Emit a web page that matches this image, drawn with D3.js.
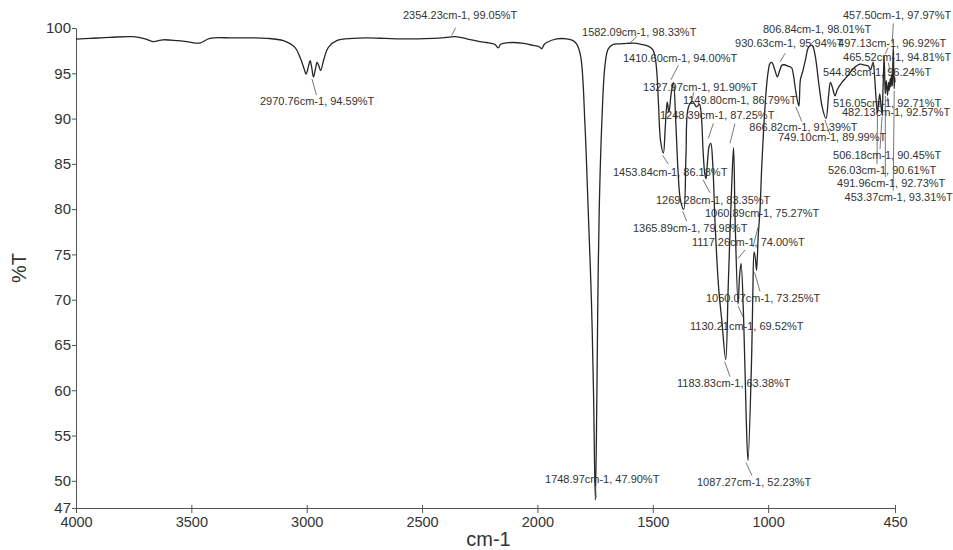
<!DOCTYPE html>
<html>
<head>
<meta charset="utf-8">
<script src="https://cdn.jsdelivr.net/npm/d3@7/dist/d3.min.js"></script>
<style>
  html, body { margin: 0; padding: 0; background: #fff; }
  svg { display: block; font-family: "Liberation Sans", Arial, sans-serif; }
</style>
</head>
<body>
<svg id="chart" width="953" height="550"></svg>
<script>
// IR spectrum: wavenumber (cm-1) and transmittance (%T)
const wavenumber = [
  4000, 3940, 3853, 3752, 3700, 3666, 3622, 3560, 3520, 3463, 3420, 3318, 3173, 3101,
  3051, 3029, 3010, 3003, 2992, 2985, 2978, 2970.76, 2962, 2955, 2947, 2940, 2925, 2906,
  2870, 2800, 2740, 2660, 2596, 2520, 2452, 2400, 2354.23, 2306, 2249, 2220, 2185, 2170,
  2160, 2148, 2106, 2060, 2032, 2000, 1990, 1982, 1970, 1960, 1916, 1873, 1845, 1829,
  1812, 1794, 1780, 1766, 1757, 1748.97, 1742, 1738, 1732, 1721, 1707, 1693, 1671, 1640,
  1610, 1582.09, 1550, 1520, 1500, 1490, 1482, 1475, 1466, 1453.84, 1447, 1441, 1437, 1430,
  1420, 1410.60, 1400, 1390, 1380, 1365.89, 1356, 1346, 1327.97, 1310, 1298, 1290, 1282,
  1275, 1269.28, 1262, 1255, 1248.39, 1240, 1230, 1215, 1200, 1183.83, 1173, 1158, 1149.80,
  1143, 1130.21, 1124, 1117.26, 1106, 1095, 1087.27, 1071, 1066, 1060.89, 1055, 1050.07,
  1043, 1035, 1028, 1020, 1013, 1006, 999, 992, 984, 970, 960, 950, 940, 930.63, 915, 898,
  891, 880, 866.82, 860, 850, 838, 826, 814, 806.84, 795, 780, 765, 749.10, 738, 730, 722,
  710, 700, 680, 659, 631, 602, 580, 566, 556, 550, 544.83, 538, 532, 526.03, 521, 516.05,
  511, 506.18, 502, 497.13, 494.5, 491.96, 488, 485, 482.13, 478, 475, 471, 468, 465.52,
  462, 460, 457.50, 455.5, 453.37, 451.5, 450
];
const transmittance = [
  98.78, 98.85, 98.97, 99.04, 98.8, 98.5, 98.7, 98.6, 98.5, 98.34, 98.86, 98.9, 98.86, 98.6,
  97.86, 96.76, 95.4, 94.9, 95.8, 96.4, 95.6, 94.59, 95.5, 96.2, 95.8, 95.3, 96.6, 97.86,
  98.6, 98.85, 98.9, 98.85, 98.8, 98.8, 98.86, 98.95, 99.05, 98.8, 98.5, 98.4, 98.2, 97.8,
  98.2, 98.3, 98.4, 98.3, 98.15, 98.0, 97.9, 97.7, 98.2, 98.4, 98.8, 98.8, 98.6, 98.2,
  96.8, 89.4, 80, 70, 60, 47.90, 60, 70, 80, 89.4, 95.9, 97.7, 98.2, 98.25,
  98.3, 98.33, 98.2, 98.0, 97.6, 96.8, 95.0, 91.5, 87.5, 86.18, 88.5, 91.0, 91.8, 90.7,
  92.8, 94.00, 89.5, 84, 81, 79.98, 86, 91.2, 91.90, 91.3, 91.6, 90.5, 86.5,
  84, 83.35, 85.5, 87, 87.25, 85, 78.5, 71.5, 67.5, 63.38, 71.4, 82.5, 86.79,
  78.8, 69.52, 72.5, 74.00, 67.8, 57, 52.23, 64.1, 71, 75.27, 74.5, 73.25,
  77, 80, 84.5, 88.5, 91.5, 93.8, 95.3, 96.1, 96.2, 95.3, 94.6, 95.3, 95.9, 95.94, 95.8, 95.6,
  94.9, 93.0, 91.39, 94.3, 95.2, 96.5, 97.8, 98.1, 98.01, 96.8, 93.8, 91.2, 89.99, 92.5, 94.0, 93.5,
  92.5, 93.2, 94.0, 94.6, 95.5, 96.0, 95.9, 95.8, 95.4, 95.8, 96.24, 94.5, 92.2, 90.61, 91.8, 92.71,
  91.6, 90.45, 93.2, 96.92, 94.6, 92.73, 94.2, 93.4, 92.57, 94.0, 93.1, 94.4, 93.5, 94.81,
  93.6, 95.2, 97.97, 95.5, 93.31, 94.6, 94.0
];

// Annotated peaks
const peakWn = [
  2970.76, 2354.23, 1748.97, 1582.09, 1453.84, 1410.60, 1365.89, 1327.97, 1269.28, 1248.39,
  1183.83, 1149.80, 1130.21, 1117.26, 1087.27, 1060.89, 1050.07, 930.63, 866.82, 806.84,
  749.10, 544.83, 526.03, 516.05, 506.18, 497.13, 491.96, 482.13, 465.52, 457.50, 453.37
];
const peakT = [
  94.59, 99.05, 47.90, 98.33, 86.18, 94.00, 79.98, 91.90, 83.35, 87.25,
  63.38, 86.79, 69.52, 74.00, 52.23, 75.27, 73.25, 95.94, 91.39, 98.01,
  89.99, 96.24, 90.61, 92.71, 90.45, 96.92, 92.73, 92.57, 94.81, 97.97, 93.31
];

// Axis ticks
const xTicks = [4000, 3500, 3000, 2500, 2000, 1500, 1000, 450];
const yTicks = [100, 95, 90, 85, 80, 75, 70, 65, 60, 55, 50, 47];

// Label placement relative to each peak: [text dx, text dy, leader x1, y1, x2, y2]
const labelLayout = [
  [-53.5, 24, -1.5, 2, 3, 18],
  [-52.7, -21.6, -4, -1, 0, -9],
  [-50.3, -20.8, 1, -2, 0, -14],
  [-51.8, -11.1, -3, -1, 3, -6.5],
  [-50.4, 18.8, -1, 2, 5, 11],
  [-50.4, -24.3, -2.5, -2.5, 5, -17],
  [-50.7, 18.7, -1, 2, 3, 12],
  [-49.4, -14.4, 0, -1, 1, -9],
  [-50, 21.2, -3, 1, 4, 14],
  [-50.8, -28.5, -2.5, -5, 2.5, -20],
  [-48.7, 23.3, -1, 2, 4.3, 17],
  [-50.6, -47.6, -3.6, -4.3, 1.4, -24],
  [-48.1, 22, 0, 2, 5, 13],
  [-49.1, -21.5, -3, -5, 4, -13.5],
  [-51, 21.4, -2, 2, 4, 15],
  [-49.1, -39, -1, -5, 4, -25],
  [-50.6, 27.7, -2, 2, 3.4, 21],
  [-49.1, -21.8, -4, -3, 1, -11.5],
  [-49.5, 21.5, -3, 1, 3, 15.5],
  [-49.7, -17, -2.7, -1, 2.3, -6],
  [-48, 18.3, -1, 1.3, 4, 16.3],
  [-50.1, 9.9, -1, 1, 2, 5],
  [-49.5, 57, 0, 2, -0.5, 51],
  [-46.8, 9.3, 0, 2, 1, 4],
  [-49, 40.5, 0, 2, -2, 34.5],
  [-46.1, -12.9, 1, -2, 4, -8],
  [-48.3, 89.2, 0, 2, 0, 83],
  [-45.6, 16.7, 0, 2, 1, 11],
  [-48.4, -18, -1, -2, -3, -12],
  [-50.3, -31.4, -1, -3, 0, -23],
  [-49.6, 108.4, 0, 2, -1, 102]
];

const svg = d3.select("#chart");
const ink = "#262626";
const textInk = "#333";

const x = d3.scaleLinear().domain([4000, 450]).range([76, 895]);
const y = d3.scaleLinear().domain([47, 100]).range([508, 28]);

// Axes
const xAxis = svg.append("g")
  .attr("transform", `translate(0,${y(47)})`)
  .call(d3.axisBottom(x).tickValues(xTicks).tickFormat(d3.format("d"))
    .tickSize(5).tickSizeOuter(0).tickPadding(4));
xAxis.selectAll(".tick line").attr("y1", -3);
xAxis.selectAll("text").attr("font-size", 14.5).attr("fill", textInk)
  .attr("font-family", "Liberation Sans, Arial, sans-serif");

const yAxis = svg.append("g")
  .attr("transform", `translate(${x(4000)},0)`)
  .call(d3.axisLeft(y).tickValues(yTicks).tickFormat(d3.format("d"))
    .tickSize(4).tickSizeOuter(0).tickPadding(1));
yAxis.selectAll("text").attr("font-size", 15).attr("fill", textInk)
  .attr("font-family", "Liberation Sans, Arial, sans-serif");

svg.selectAll(".domain, .tick line").attr("stroke", "#555").attr("stroke-width", 1);

// Axis titles
svg.append("text")
  .attr("transform", `translate(26,${y(73.5)}) rotate(-90)`)
  .attr("text-anchor", "middle")
  .attr("font-size", 20).attr("fill", textInk)
  .text("%T");
svg.append("text")
  .attr("x", (x(4000) + x(450)) / 2 + 3).attr("y", 546)
  .attr("text-anchor", "middle")
  .attr("font-size", 20).attr("fill", textInk)
  .text("cm-1");

// Spectrum trace
const points = wavenumber.map((w, i) => [w, transmittance[i]]);
const line = d3.line()
  .x(d => x(d[0]))
  .y(d => y(d[1]))
  .curve(d3.curveCatmullRom.alpha(0.5));
svg.append("path")
  .datum(points)
  .attr("fill", "none")
  .attr("stroke", ink)
  .attr("stroke-width", 1.3)
  .attr("stroke-linejoin", "round")
  .attr("d", line);

// Peak annotations with leader lines
const fmt = d3.format(".2f");
const notes = svg.append("g");
peakWn.forEach((w, i) => {
  const px = x(w), py = y(peakT[i]);
  const L = labelLayout[i];
  notes.append("line")
    .attr("x1", px + L[2]).attr("y1", py + L[3])
    .attr("x2", px + L[4]).attr("y2", py + L[5])
    .attr("stroke", "#555").attr("stroke-width", 0.8);
  notes.append("text")
    .attr("x", px + L[0]).attr("y", py + L[1])
    .attr("dy", "0.35em")
    .attr("font-size", 11)
    .attr("fill", textInk)
    .text(`${fmt(w)}cm-1, ${fmt(peakT[i])}%T`);
});
</script>
</body>
</html>
